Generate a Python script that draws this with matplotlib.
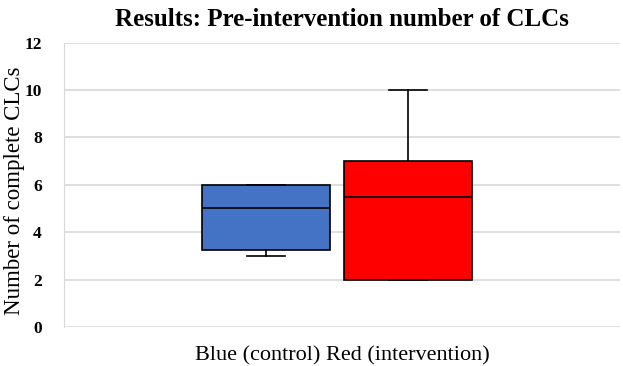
import matplotlib.pyplot as plt

# box statistics
groups = ['Blue (control)', 'Red (intervention)']
q1 = [3.25, 2.0]
medians = [5.0, 5.5]
q3 = [6.0, 7.0]
whislo = [3.0, 2.0]
whishi = [6.0, 10.0]
colors = ['#4472C4', '#FF0000']

plt.rcParams['font.family'] = ['Liberation Serif', 'DejaVu Serif']

fig = plt.figure(figsize=(6.23, 3.66), dpi=100)
ax = fig.add_axes([0.103, 0.107, 0.892, 0.776])

stats = []
for i, g in enumerate(groups):
    stats.append({'label': g, 'q1': q1[i], 'med': medians[i], 'q3': q3[i],
                  'whislo': whislo[i], 'whishi': whishi[i], 'fliers': []})

bp = ax.bxp(stats, positions=[0.363, 0.619], widths=0.23, capwidths=0.068,
            patch_artist=True, showfliers=False,
            medianprops=dict(color='black', linewidth=1.2),
            whiskerprops=dict(color='black', linewidth=1.2),
            capprops=dict(color='black', linewidth=1.2),
            boxprops=dict(edgecolor='black', linewidth=1.2))
for patch, c in zip(bp['boxes'], colors):
    patch.set_facecolor(c)
    patch.set_zorder(3)
for k in ('medians', 'whiskers', 'caps'):
    for l in bp[k]:
        l.set_zorder(4)

ax.set_xlim(0, 1)
ax.set_ylim(0, 12)
ax.set_yticks(range(0, 13, 2))
ax.set_xticks([])
ax.yaxis.grid(True, color='#D9D9D9', linewidth=1.2)
ax.set_axisbelow(True)
for s in ('top', 'right', 'bottom'):
    ax.spines[s].set_visible(False)
ax.spines['left'].set_color('#D9D9D9')
ax.tick_params(axis='y', length=0, pad=16, labelsize=12.5)
for t in ax.get_yticklabels():
    t.set_fontweight('bold')

ax.set_xlabel('Blue (control) Red (intervention)', fontsize=16, labelpad=14)
ax.set_ylabel('Number of complete CLCs', fontsize=16.5)
ax.yaxis.set_label_coords(-0.07, 0.48)
ax.set_title('Results: Pre-intervention number of CLCs', fontsize=18,
             fontweight='bold', pad=12)

fig.savefig('out.png', dpi=100)
